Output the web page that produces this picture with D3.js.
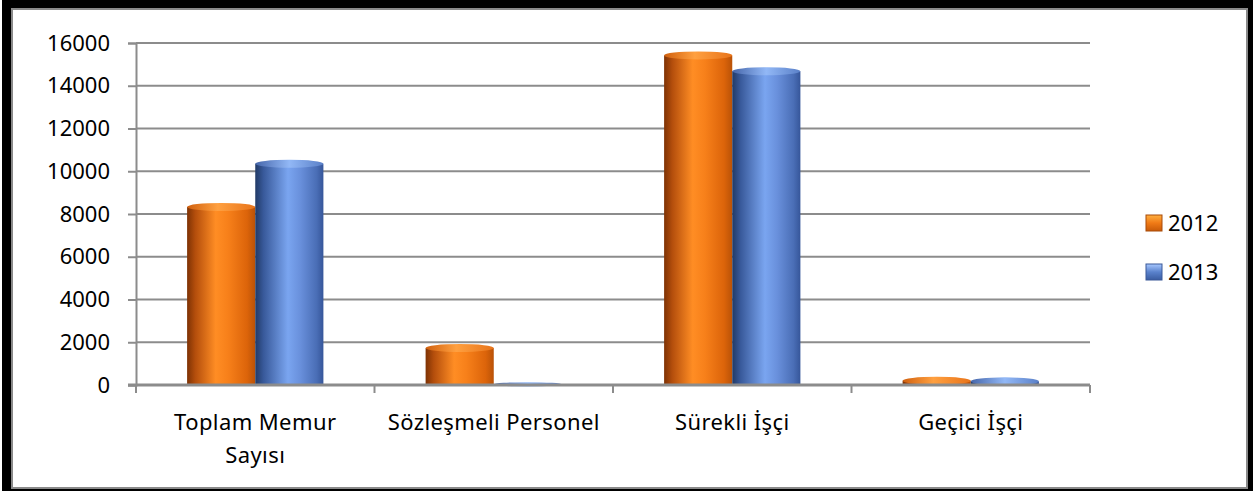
<!DOCTYPE html>
<html>
<head>
<meta charset="utf-8">
<script src="https://cdn.jsdelivr.net/npm/d3@7"></script>
<style>
  body { margin: 0; background: #fff; }
  text { font-family: "Noto Sans", "Open Sans", sans-serif; fill: #000; }
</style>
</head>
<body>
<div id="chart"></div>
<script>
var svgWidth = 1253;
var svgHeight = 491;

// data
var categories = ["Toplam Memur Sayısı", "Sözleşmeli Personel", "Sürekli İşçi", "Geçici İşçi"];
var categoryLines = [["Toplam Memur", "Sayısı"], ["Sözleşmeli Personel"], ["Sürekli İşçi"], ["Geçici İşçi"]];
var series = ["2012", "2013"];
var values2012 = [8330, 1730, 15420, 200];
var values2013 = [10350, 30, 14680, 170];
var yTicks = [0, 2000, 4000, 6000, 8000, 10000, 12000, 14000, 16000];

var margin = { top: 43, left: 136, right: 163, bottom: 106 };
var plotRight = svgWidth - margin.right;
var plotBottom = svgHeight - margin.bottom;

var svg = d3.select("#chart")
  .append("svg")
  .attr("width", svgWidth)
  .attr("height", svgHeight);

// gradients for the cylinder look
var defs = svg.append("defs");
function addGradient(id, stops, vertical) {
  var g = defs.append("linearGradient").attr("id", id)
    .attr("x1", 0).attr("y1", 0)
    .attr("x2", vertical ? 0 : 1).attr("y2", vertical ? 1 : 0);
  stops.forEach(function(s) {
    g.append("stop").attr("offset", s[0]).attr("stop-color", s[1]);
  });
}
addGradient("g2012", [[0, "#7e3204"], [0.12, "#b44e0c"], [0.42, "#ff8d24"], [0.6, "#f7801a"], [0.88, "#dc640a"], [1, "#b95207"]]);
addGradient("g2013", [[0, "#213a66"], [0.12, "#38599a"], [0.48, "#7aa5f0"], [0.66, "#6990dc"], [0.9, "#4a6eb6"], [1, "#36569a"]]);
addGradient("c2012", [[0, "#d0600e"], [0.45, "#ffa040"], [1, "#e8741a"]]);
addGradient("c2013", [[0, "#4666aa"], [0.5, "#92b8f6"], [1, "#5a80c8"]]);
addGradient("l2012", [[0, "#ffb040"], [0.5, "#f07a16"], [1, "#c85a08"]], true);
addGradient("l2013", [[0, "#a8c8ff"], [0.5, "#5a82cc"], [1, "#3a5ca0"]], true);

// frame
svg.append("rect").attr("x", 2).attr("y", 0).attr("width", svgWidth - 2).attr("height", svgHeight).attr("fill", "#000");
svg.append("rect").attr("x", 12).attr("y", 9).attr("width", 1235).attr("height", 479)
  .attr("fill", "#fff").attr("stroke", "#8a8a8a").attr("stroke-width", 2);

var x0 = d3.scaleBand()
  .domain(categories)
  .range([margin.left, plotRight])
  .padding(0);

var x1 = d3.scaleBand()
  .domain(series)
  .range([0, x0.bandwidth()])
  .paddingInner(0)
  .paddingOuter(0.75);

var y = d3.scaleLinear()
  .domain([0, 16000])
  .range([plotBottom, margin.top]);

// gridlines
svg.append("g")
  .selectAll("line")
  .data(yTicks.slice(1))
  .enter()
  .append("line")
  .attr("x1", margin.left)
  .attr("x2", plotRight)
  .attr("y1", d => y(d))
  .attr("y2", d => y(d))
  .attr("stroke", "#8c8c8c")
  .attr("stroke-width", 2);

// y axis
var leftAxis = d3.axisLeft(y).tickValues(yTicks).tickSize(8).tickPadding(18).tickFormat(d3.format("d"));
var yAxisG = svg.append("g")
  .attr("transform", `translate(${margin.left},0)`)
  .call(leftAxis);
yAxisG.select(".domain").attr("stroke", "#8c8c8c").attr("stroke-width", 2);
yAxisG.selectAll(".tick line").attr("stroke", "#8c8c8c").attr("stroke-width", 2);
yAxisG.selectAll(".tick text").style("font-size", "22px").attr("fill", "#000");

// bars
var rows = categories.map(function(c, i) {
  return { cat: c, vals: [
    { s: "2012", v: values2012[i] },
    { s: "2013", v: values2013[i] }
  ] };
});

var groups = svg.append("g")
  .selectAll("g")
  .data(rows)
  .enter()
  .append("g")
  .attr("transform", d => `translate(${x0(d.cat)},0)`);

var capRy = 4;
var bars = groups.selectAll("g")
  .data(d => d.vals)
  .enter()
  .append("g");

bars.append("rect")
  .attr("x", d => x1(d.s))
  .attr("width", x1.bandwidth())
  .attr("y", d => y(d.v))
  .attr("height", d => plotBottom - y(d.v))
  .attr("fill", d => `url(#g${d.s})`);

bars.append("ellipse")
  .attr("cx", d => x1(d.s) + x1.bandwidth() / 2)
  .attr("cy", d => y(d.v))
  .attr("rx", x1.bandwidth() / 2)
  .attr("ry", d => Math.min(capRy, (plotBottom - y(d.v)) + 1.5))
  .attr("fill", d => `url(#c${d.s})`);

// x axis baseline and ticks
svg.append("line")
  .attr("x1", margin.left - 8).attr("x2", plotRight)
  .attr("y1", plotBottom).attr("y2", plotBottom)
  .attr("stroke", "#8c8c8c").attr("stroke-width", 3);

var boundaries = categories.map(c => x0(c)).concat([plotRight]);
svg.append("g")
  .selectAll("line")
  .data(boundaries)
  .enter()
  .append("line")
  .attr("x1", d => d).attr("x2", d => d)
  .attr("y1", plotBottom).attr("y2", plotBottom + 8)
  .attr("stroke", "#8c8c8c").attr("stroke-width", 2);

// category labels
var catLabels = svg.append("g")
  .selectAll("text")
  .data(categories)
  .enter()
  .append("text")
  .attr("x", d => x0(d) + x0.bandwidth() / 2)
  .attr("y", 430)
  .attr("text-anchor", "middle")
  .style("font-size", "22px")
  .style("letter-spacing", "0.4px");

catLabels.each(function(d, i) {
  var t = d3.select(this);
  categoryLines[i].forEach(function(line, j) {
    t.append("tspan")
      .attr("x", x0(d) + x0.bandwidth() / 2)
      .attr("dy", j === 0 ? 0 : 33)
      .text(line);
  });
});

// legend
var legend = svg.append("g")
  .selectAll("g")
  .data(series)
  .enter()
  .append("g")
  .attr("transform", (d, i) => `translate(1146,${215 + i * 49})`);

legend.append("rect")
  .attr("width", 16).attr("height", 16)
  .attr("fill", d => `url(#l${d})`)
  .attr("stroke", d => d === "2012" ? "#a84a08" : "#3a5898")
  .attr("stroke-width", 1);

legend.append("text")
  .attr("x", 22)
  .attr("y", 8)
  .attr("dy", "0.36em")
  .style("font-size", "22px")
  .text(d => d);
</script>
</body>
</html>
